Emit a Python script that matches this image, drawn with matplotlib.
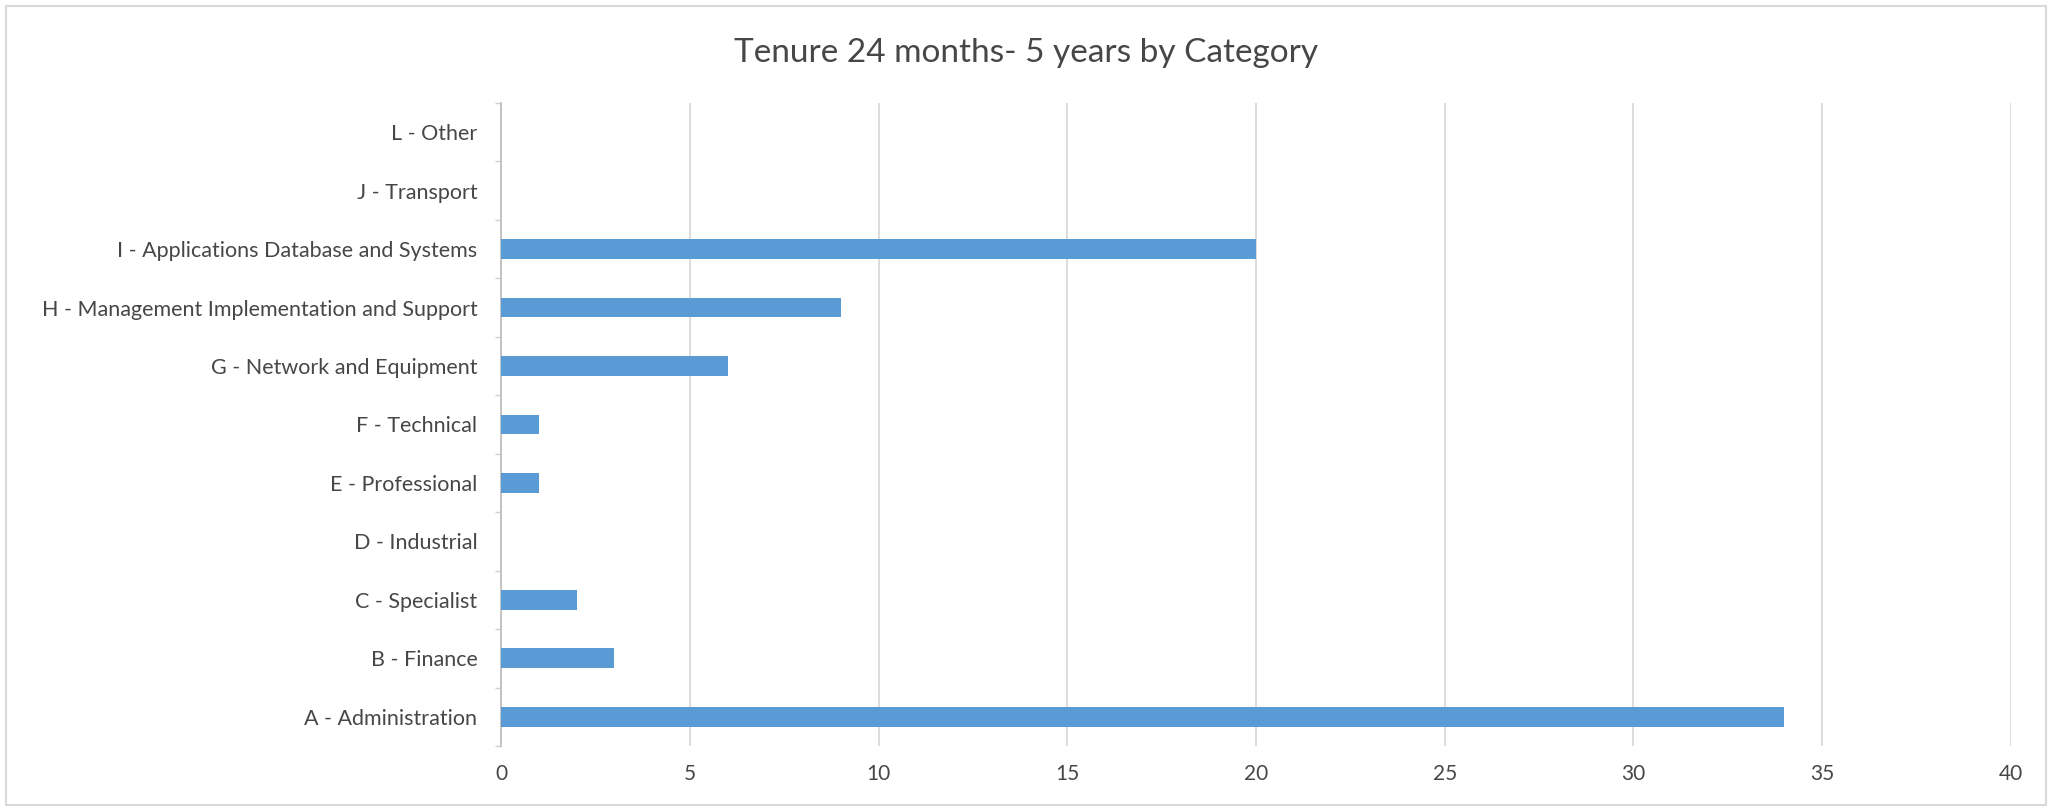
import matplotlib.pyplot as plt
from matplotlib.patches import Rectangle

plt.rcParams['font.family'] = ['Lato', 'DejaVu Sans']

categories = [
    "A - Administration", "B - Finance", "C - Specialist", "D - Industrial",
    "E - Professional", "F - Technical", "G - Network and Equipment",
    "H - Management Implementation and Support",
    "I - Applications Database and Systems", "J - Transport", "L - Other",
]
counts = [34, 3, 2, 0, 1, 1, 6, 9, 20, 0, 0]
x_ticks = [0, 5, 10, 15, 20, 25, 30, 35, 40]

text_color = "#474747"
grid_color = "#D9D9D9"

fig = plt.figure(figsize=(20.52, 8.10), dpi=100)
ax = fig.add_axes([0.2442, 0.079, 0.7358, 0.794])

pos = range(len(categories))
ax.barh(pos, counts, height=0.34, color="#5B9BD5", zorder=3)

ax.set_xlim(0, 40)
ax.set_ylim(-0.5, len(categories) - 0.5)
ax.set_xticks(x_ticks)
ax.set_yticks(list(pos))
ax.set_yticklabels(categories)
ax.set_yticks([i - 0.5 for i in range(len(categories) + 1)], minor=True)

ax.grid(axis="x", color=grid_color, linewidth=1.3, zorder=0)
for s in ["top", "right", "bottom"]:
    ax.spines[s].set_visible(False)
ax.spines["left"].set_color("#BFBFBF")
ax.spines["left"].set_linewidth(1.3)

ax.tick_params(axis="x", length=0, pad=13, labelsize=15, labelcolor=text_color)
ax.tick_params(axis="y", which="major", length=0, pad=17, labelsize=15.5, labelcolor=text_color)
ax.tick_params(axis="y", which="minor", length=4, width=1.0, color="#D0D0D0")

fig.text(0.5, 0.935, "Tenure 24 months- 5 years by Category", ha="center", va="center",
         fontsize=24, color=text_color)

# light frame around the chart area
fig.patches.append(Rectangle((0.003, 0.006), 0.994, 0.986, transform=fig.transFigure,
                             fill=False, edgecolor="#D9D9D9", linewidth=1.5))

fig.savefig("out.png", dpi=100)
